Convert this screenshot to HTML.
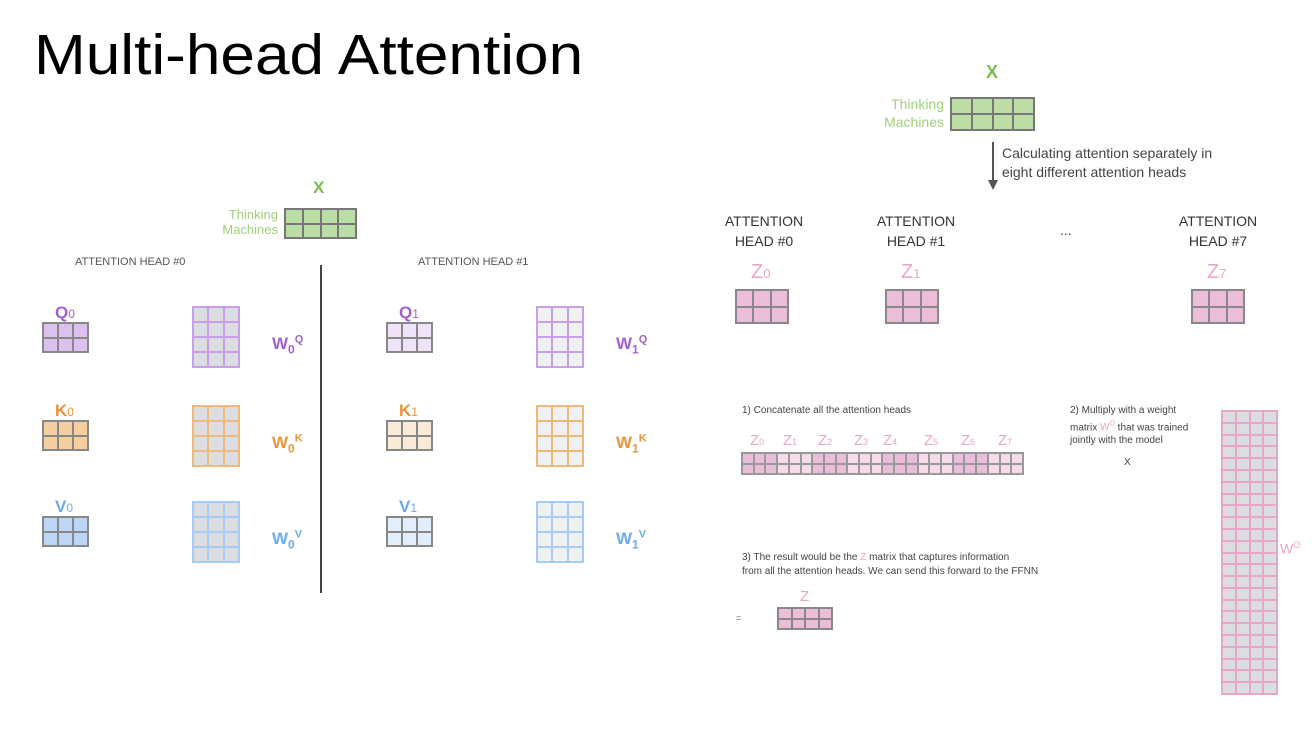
<!DOCTYPE html>
<html><head><meta charset="utf-8"><style>
body{margin:0;width:1312px;height:740px;background:#fff;position:relative;overflow:hidden;font-family:"Liberation Sans",sans-serif}
.a{position:absolute;white-space:nowrap}
.g{position:absolute;display:grid;box-sizing:border-box}
.g div{box-sizing:border-box}
</style></head><body>
<div class="a" style="left:34px;top:22px;font-size:57px;color:#000;transform:scaleX(1.09);transform-origin:0 0">Multi-head Attention</div>
<div id="root"></div>
<script>
const root=document.getElementById('root');
function txt(name,x,y,s,size,color,extra){const d=document.createElement('div');d.className='a';d.style.cssText=`left:${x}px;top:${y}px;font-size:${size}px;color:${color};`+(extra||'');d.innerHTML=s;


root.appendChild(d);return d;}
function grid(name,x,y,w,h,cols,rows,fill,line,fillFn){const g=document.createElement('div');g.className='g';
g.style.cssText=`left:${x}px;top:${y}px;width:${w}px;height:${h}px;grid-template-columns:repeat(${cols},1fr);grid-template-rows:repeat(${rows},1fr);border:1px solid ${line};`;


for(let r=0;r<rows;r++)for(let c=0;c<cols;c++){const d=document.createElement('div');d.style.background=fillFn?fillFn(c,r):fill;d.style.border=`0.5px solid ${line}`;g.appendChild(d);}
root.appendChild(g);}
const green='#7dbb4f',purple='#a35fd6',orange='#e8953a',blue='#6aaaf0',pink='#e8a6c8';
txt('x-label-left',313,178,'<b>X</b>',17,green);
txt('thinking-left',200,207,'Thinking',13,'#9fd07a','width:78px;text-align:right');
txt('machines-left',200,222,'Machines',13,'#9fd07a','width:78px;text-align:right');
grid('x-matrix-left',284,208,73,31,4,2,'#bcdda5','#777');
txt('head0-title',75,256,'ATTENTION HEAD #0',11,'#555');
txt('head1-title',418,256,'ATTENTION HEAD #1',11,'#555');
const sep=document.createElement('div');sep.className='a';sep.style.cssText='left:320px;top:265px;width:1.5px;height:328px;background:#444';


root.appendChild(sep);
const rowsQKV=[['Q','Q',purple,'#dcc0ee','#efe3f7','#c8a0ea',306,322],['K','K',orange,'#f4cf9f','#faebd9','#f0b97a',405,420],['V','V',blue,'#bcd7f6','#e3eefb','#a6cbf6',501,516]];
[0,1].forEach(h=>{const ox=h?344:0;rowsQKV.forEach(r=>{
 txt('label-'+r[0]+h,ox+55,r[7]-19,`<b>${r[0]}</b><span style="font-size:12px">${h}</span>`,17,r[2]);
 grid('matrix-'+r[0]+h,ox+42,r[7],47,31,3,2,h?r[4]:r[3],'#888');
 grid('weight-'+r[0]+h,ox+192,r[6],48,62,3,4,h?'#eef0f2':'#dcdde0',r[5]);
 txt('weight-label-'+r[0]+h,ox+272,r[6]+23,`<b>W<sub style="font-size:12px">${h}</sub><sup style="font-size:11px">${r[1]}</sup></b>`,17,r[2],'line-height:20px');
});});
txt('x-label-right',986,62,'<b>X</b>',18,green);
txt('thinking-right',860,96,'Thinking',14,'#9fd07a','width:84px;text-align:right');
txt('machines-right',860,114,'Machines',14,'#9fd07a','width:84px;text-align:right');
grid('x-matrix-right',950,97,85,34,4,2,'#bcdda5','#777');
root.insertAdjacentHTML('beforeend','<svg style="position:absolute;left:985px;top:140px" width="16" height="52"><line x1="8" y1="2" x2="8" y2="42" stroke="#555" stroke-width="2"/><polygon points="3,40 13,40 8,50" fill="#555"/></svg>');
txt('split-caption-1',1002,145,'Calculating attention separately in',14,'#444');
txt('split-caption-2',1002,164,'eight different attention heads',14,'#444');
const heads=[['0',764,735],['1',916,885],['7',1218,1191]];
heads.forEach(h=>{
 txt('head'+h[0]+'-heading',h[1]-60,211,`ATTENTION<br>HEAD #${h[0]}`,14,'#333','width:120px;text-align:center;line-height:20px');
 txt('z'+h[0]+'-label',h[2]+16,261,`Z<span style="font-size:13px">${h[0]}</span>`,20,pink);
 grid('z'+h[0]+'-matrix',h[2],289,54,35,3,2,'#ebbdd9','#888');
});
txt('ellipsis',1060,222,'...',14,'#444');
txt('step1-text',742,405,'1) Concatenate all the attention heads',10,'#444');
const zLabels=['0','1','2','3','4','5','6','7'];
const zx=[750,783,818,854,883,924,961,998];
zLabels.forEach((z,i)=>txt('concat-z'+z+'-label',zx[i],432,`Z<span style="font-size:9px">${z}</span>`,15,pink));
grid('concat-matrix',741,452,283,23,24,2,'','#999',(c)=>Math.floor(c/3)%2?'#f6dcea':'#e9bdd9');
txt('step2-text',1070,404,'2) Multiply with a weight<br>matrix <span style="color:'+pink+'">W<sup style="font-size:7px">O</sup></span> that was trained<br>jointly with the model',10,'#444','line-height:13.5px');
txt('times-sign',1124,457,'X',10,'#444');
grid('wo-matrix',1221,410,57,285,4,24,'#dcdde0','#e8a6c8');
txt('wo-label',1280,540,'W<sup style="font-size:9px">O</sup>',14,pink);
txt('step3-text',742,551,'3) The result would be the <span style="color:'+pink+'">Z</span> matrix that captures information<br>from all the attention heads. We can send this forward to the FFNN',10,'#444','line-height:14px');
txt('equals-sign',736,613,'=',9,'#666');
txt('z-result-label',800,588,'Z',15,pink);
grid('z-result-matrix',777,607,56,23,4,2,'#ebbdd9','#888');
</script>
</body></html>
